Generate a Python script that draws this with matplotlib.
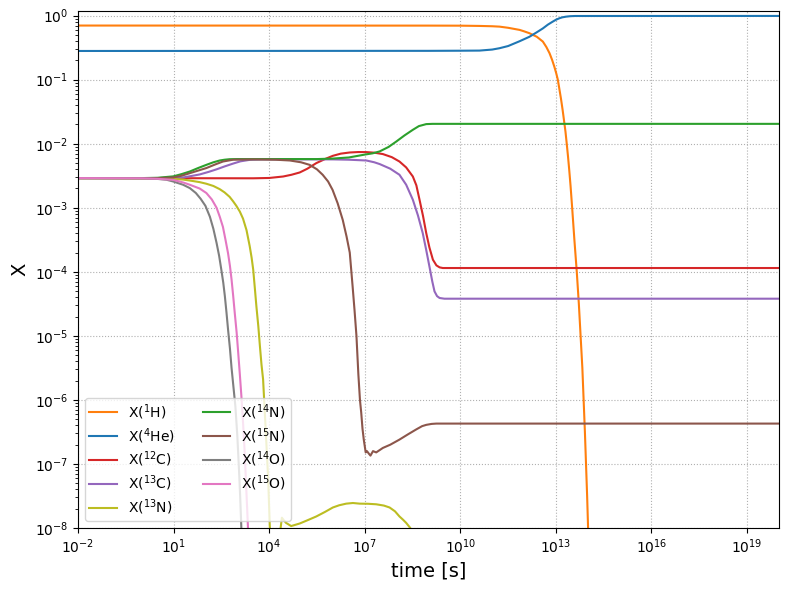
import numpy as np
import matplotlib
matplotlib.use("Agg")
import matplotlib.pyplot as plt

# log10(time [s]) and log10(mass fraction X)
H_t = [-2, 9, 10, 10.6, 11.0, 11.23, 11.5, 11.86, 12.0, 12.17, 12.4, 12.59, 12.70, 12.80, 12.88, 12.95, 13.01, 13.06, 13.11,
       13.16, 13.21, 13.25, 13.30, 13.34, 13.38, 13.42, 13.46, 13.51, 13.58, 13.655, 13.72, 13.775, 13.83, 13.87, 13.91,
       13.945, 13.98, 14.01, 14.07]
H_x = [-0.155, -0.156, -0.157, -0.161, -0.166, -0.172, -0.19, -0.223, -0.245, -0.275, -0.33, -0.405, -0.49, -0.587, -0.69,
       -0.796, -0.90, -1.0, -1.15, -1.3, -1.47, -1.62, -1.81, -2.0, -2.2, -2.42, -2.66, -3.0, -3.5, -4.0, -4.5, -5.0, -5.5,
       -6.0, -6.5, -7.0, -7.5, -8.0, -9.0]

He_t = [-2, 9, 10, 10.6, 11.0, 11.23, 11.5, 11.86, 12.17, 12.4, 12.59, 12.75, 12.9, 13.0, 13.11, 13.2, 13.32, 13.45, 13.6, 20]
He_x = [-0.552, -0.550, -0.548, -0.546, -0.53, -0.509, -0.475, -0.40, -0.33, -0.26, -0.20, -0.14, -0.094, -0.065, -0.041,
        -0.027, -0.016, -0.009, -0.006, -0.005]

C12_t = [-2, 3.5, 4.0, 4.44, 4.7, 4.96, 5.2, 5.48, 5.75, 6.0, 6.25, 6.53, 6.8, 7.05, 7.3, 7.57, 7.85, 8.09, 8.3, 8.51,
         8.62, 8.72, 8.83, 8.93, 9.03, 9.14, 9.25, 9.35, 9.45, 20]
C12_x = [-2.537, -2.54, -2.535, -2.512, -2.485, -2.449, -2.39, -2.303, -2.24, -2.189, -2.155, -2.137, -2.13, -2.131, -2.14,
         -2.162, -2.21, -2.278, -2.37, -2.512, -2.65, -2.875, -3.13, -3.395, -3.62, -3.811, -3.90, -3.931, -3.941, -3.941]

C13_t = [-2, 0.5, 1.0, 1.3, 1.55, 1.82, 2.1, 2.35, 2.6, 2.87, 3.1, 3.39, 3.8, 6.0, 6.5, 7.05, 7.3, 7.47, 7.8, 8.09, 8.3,
         8.51, 8.67, 8.82, 8.93, 9.03, 9.12, 9.19, 9.27, 9.35, 9.5, 20]
C13_x = [-2.537, -2.537, -2.535, -2.527, -2.505, -2.48, -2.44, -2.40, -2.355, -2.31, -2.275, -2.252, -2.245, -2.245, -2.25,
         -2.262, -2.29, -2.318, -2.39, -2.485, -2.64, -2.875, -3.12, -3.395, -3.66, -3.916, -4.15, -4.306, -4.38, -4.409,
         -4.42, -4.42]

N13_t = [-2, 0.5, 0.99, 1.3, 1.51, 1.82, 2.03, 2.25, 2.45, 2.6, 2.76, 2.87, 2.97, 3.08, 3.18, 3.29, 3.39, 3.45, 3.50, 3.55,
         3.60, 3.66, 3.71, 3.76, 3.81, 3.89, 3.97, 4.02, 4.10, 4.32, 4.36, 4.40, 4.46, 4.53, 4.69, 4.96, 5.2, 5.48, 5.75,
         6.0, 6.2, 6.42, 6.63, 6.84, 7.1, 7.36, 7.6, 7.78, 7.95, 8.09, 8.2, 8.30, 8.43, 8.6]
N13_x = [-2.537, -2.54, -2.55, -2.56, -2.575, -2.60, -2.625, -2.66, -2.71, -2.76, -2.83, -2.90, -2.97, -3.06, -3.17, -3.35,
         -3.60, -3.78, -3.967, -4.25, -4.54, -4.85, -5.16, -5.45, -5.68, -6.45, -7.24, -7.97, -8.6, -8.6, -8.0, -7.84,
         -7.88, -7.92, -7.97, -7.93, -7.88, -7.82, -7.75, -7.68, -7.645, -7.62, -7.61, -7.62, -7.622, -7.63, -7.65, -7.68,
         -7.74, -7.82, -7.87, -7.92, -8.0, -8.3]

N14_t = [-2, 0.0, 0.5, 0.99, 1.25, 1.51, 1.77, 2.03, 2.25, 2.45, 2.6, 2.76, 3.0, 5.5, 6.0, 6.5, 7.0, 7.25, 7.47, 7.75, 7.99,
         8.25, 8.51, 8.7, 8.93, 9.13, 20]
N14_x = [-2.537, -2.537, -2.532, -2.51, -2.475, -2.434, -2.38, -2.33, -2.29, -2.262, -2.25, -2.242, -2.24, -2.24, -2.232,
         -2.215, -2.17, -2.15, -2.12, -2.05, -1.966, -1.87, -1.783, -1.725, -1.694, -1.69, -1.69]

N15_t = [-2, 0.5, 0.99, 1.25, 1.51, 1.77, 2.03, 2.3, 2.55, 2.87, 3.5, 4.2, 4.65, 5.0, 5.27, 5.5, 5.68, 5.85, 5.99, 6.15,
         6.31, 6.43, 6.53, 6.62, 6.68, 6.74, 6.80, 6.85, 6.89, 6.93, 6.97, 7.03, 7.07, 7.13, 7.18, 7.26, 7.36, 7.57, 7.8,
         8.09, 8.35, 8.62, 8.8, 8.93, 9.1, 9.25, 20]
N15_x = [-2.537, -2.537, -2.527, -2.50, -2.46, -2.42, -2.38, -2.325, -2.278, -2.25, -2.245, -2.25, -2.262, -2.29, -2.33,
         -2.40, -2.485, -2.59, -2.72, -2.93, -3.19, -3.45, -3.70, -4.23, -4.6, -5.0, -5.6, -6.0, -6.2, -6.45, -6.62, -6.82,
         -6.80, -6.84, -6.87, -6.80, -6.82, -6.75, -6.70, -6.62, -6.54, -6.46, -6.41, -6.39, -6.375, -6.37, -6.37]

O14_t = [-2, 0.0, 0.5, 0.78, 0.99, 1.30, 1.51, 1.70, 1.85, 2.0, 2.14, 2.25, 2.35, 2.43, 2.50, 2.56, 2.61, 2.66, 2.71, 2.77,
         2.82, 2.87, 2.94, 3.0, 3.05, 3.09, 3.12, 3.15, 3.2]
O14_x = [-2.537, -2.54, -2.55, -2.563, -2.59, -2.641, -2.693, -2.77, -2.86, -2.97, -3.14, -3.33, -3.55, -3.75, -3.97, -4.17,
         -4.38, -4.63, -4.90, -5.2, -5.50, -5.75, -6.1, -6.55, -7.05, -7.5, -7.9, -8.3, -9.0]

O15_t = [-2, 0.0, 0.5, 0.99, 1.30, 1.51, 1.82, 2.03, 2.2, 2.35, 2.45, 2.55, 2.63, 2.71, 2.77, 2.82, 2.87, 2.92, 2.98, 3.03,
         3.08, 3.13, 3.18, 3.23, 3.27, 3.31, 3.34, 3.4]
O15_x = [-2.537, -2.54, -2.548, -2.565, -2.605, -2.641, -2.70, -2.77, -2.87, -3.0, -3.14, -3.30, -3.50, -3.71, -3.91, -4.12,
         -4.37, -4.64, -4.95, -5.27, -5.6, -5.95, -6.35, -6.8, -7.25, -7.7, -8.05, -8.8]

series = [
    ("X($^{1}$H)", H_t, H_x, "C1"),
    ("X($^{4}$He)", He_t, He_x, "C0"),
    ("X($^{12}$C)", C12_t, C12_x, "C3"),
    ("X($^{13}$C)", C13_t, C13_x, "C4"),
    ("X($^{13}$N)", N13_t, N13_x, "C8"),
    ("X($^{14}$N)", N14_t, N14_x, "C2"),
    ("X($^{15}$N)", N15_t, N15_x, "C5"),
    ("X($^{14}$O)", O14_t, O14_x, "C7"),
    ("X($^{15}$O)", O15_t, O15_x, "C6"),
]

fig = plt.figure(figsize=(7.9, 5.89), dpi=100)
ax = fig.add_axes([0.0987, 0.1036, 0.8873, 0.8777])

for label, t, x, c in series:
    ax.plot(10.0 ** np.array(t), 10.0 ** np.array(x), color=c, label=label, lw=1.5)

ax.set_xscale("log")
ax.set_yscale("log")
ax.set_xlim(1e-2, 1e20)
ax.set_ylim(1e-8, 1.18)
ax.grid(ls=":", color="#b0b0b0")
ax.set_xlabel("time [s]", fontsize=14)
ax.set_ylabel("X", fontsize=14)
ax.legend(loc="lower left", ncol=2, labelspacing=0.3, borderpad=0.3)

fig.savefig("out.png", dpi=100)
